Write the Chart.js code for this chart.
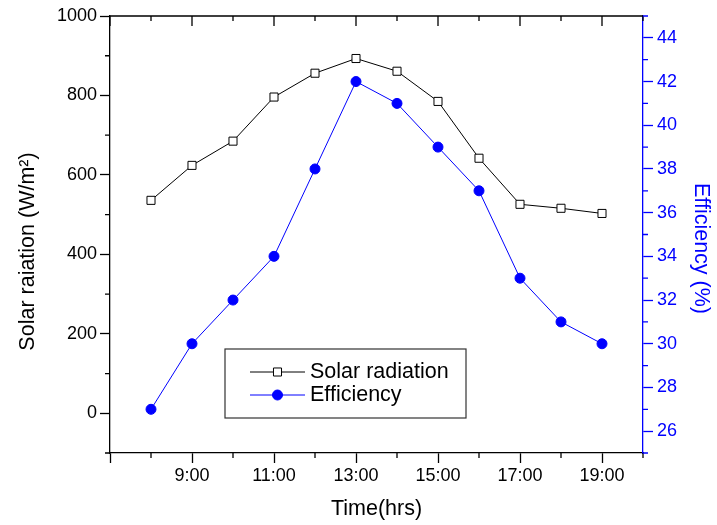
<!DOCTYPE html>
<html><head><meta charset="utf-8">
<script src="https://cdn.jsdelivr.net/npm/chart.js@4/dist/chart.umd.min.js"></script>
<style>html,body{margin:0;padding:0;background:#fff}#wrap{width:717px;height:525px}</style>
</head><body><div id="wrap"><canvas id="c" width="717" height="525"></canvas></div>
<script>
const HOURS = [8, 9, 10, 11, 12, 13, 14, 15, 16, 17, 18, 19];
const SOLAR = [536, 624, 685, 796, 856, 893, 861, 785, 642, 526, 516, 503];
const EFFICIENCY = [27, 30, 32, 34, 38, 42, 41, 39, 37, 33, 31, 30];
const SERIES_NAMES = ['Solar radiation', 'Efficiency'];
const X_TICK_HOURS = [9, 11, 13, 15, 17, 19];
const X_TICK_LABELS = ['9:00', '11:00', '13:00', '15:00', '17:00', '19:00'];
const X_MAJOR = [7, 9, 11, 13, 15, 17, 19];
const X_MINOR = [8, 10, 12, 14, 16, 18, 20];
const Y_LEFT_TICKS = [0, 200, 400, 600, 800, 1000];
const Y_LEFT_MINOR = [-100, 100, 300, 500, 700, 900];
const Y_RIGHT_TICKS = [26, 28, 30, 32, 34, 36, 38, 40, 42, 44];
const Y_RIGHT_MINOR = [25, 27, 29, 31, 33, 35, 37, 39, 41, 43, 45];
const X_TITLE = 'Time(hrs)';
const Y_LEFT_TITLE = 'Solar raiation (W/m²)';
const Y_RIGHT_TITLE = 'Efficiency (%)';

const FONT = "'Liberation Sans', Arial, sans-serif";
const BLUE = '#0000ff';
const LW = 1.3;

const decor = {
  id: 'decor',
  afterDatasetsDraw(chart) {
    const {ctx, chartArea: a, scales} = chart;
    const x = scales.x, yL = scales.y, yR = scales.y1;
    ctx.save();
    ctx.lineWidth = LW;
    ctx.strokeStyle = '#000';
    ctx.beginPath();
    X_MINOR.forEach(v => { const p = x.getPixelForValue(v); ctx.moveTo(p, a.bottom); ctx.lineTo(p, a.bottom + 5); });
    ctx.moveTo(a.left, a.top); ctx.lineTo(a.right, a.top);
    X_MAJOR.forEach(v => { const p = x.getPixelForValue(v); ctx.moveTo(p, a.top); ctx.lineTo(p, a.top + 10); });
    X_MINOR.forEach(v => { const p = x.getPixelForValue(v); ctx.moveTo(p, a.top); ctx.lineTo(p, a.top + 5); });
    Y_LEFT_MINOR.forEach(v => { const p = yL.getPixelForValue(v); ctx.moveTo(a.left - 5, p); ctx.lineTo(a.left, p); });
    ctx.stroke();
    ctx.strokeStyle = BLUE;
    ctx.beginPath();
    Y_RIGHT_MINOR.forEach(v => { const p = yR.getPixelForValue(v); ctx.moveTo(a.right, p); ctx.lineTo(a.right + 5, p); });
    ctx.stroke();

    // legend
    const lx = a.left + 115, ly = a.top + 333, lw = 241, lh = 69;
    ctx.fillStyle = '#fff';
    ctx.fillRect(lx, ly, lw, lh);
    ctx.lineWidth = 1.2;
    ctx.strokeStyle = '#333';
    ctx.strokeRect(lx, ly, lw, lh);
    const rows = [ly + 23, ly + 46];
    chart.data.datasets.forEach((ds, i) => {
      const yy = rows[i];
      ctx.lineWidth = 1;
      ctx.strokeStyle = ds.borderColor;
      ctx.beginPath(); ctx.moveTo(lx + 25, yy); ctx.lineTo(lx + 80, yy); ctx.stroke();
      ctx.fillStyle = ds.pointBackgroundColor;
      ctx.strokeStyle = ds.pointBorderColor;
      ctx.beginPath();
      if (ds.pointStyle === 'rect') {
        const h = ds.pointRadius * Math.SQRT1_2;
        ctx.rect(lx + 52.5 - h, yy - h, 2 * h, 2 * h);
      } else {
        ctx.arc(lx + 52.5, yy, ds.pointRadius, 0, Math.PI * 2);
      }
      ctx.fill(); ctx.stroke();
      ctx.fillStyle = '#000';
      ctx.font = '21.5px ' + FONT;
      ctx.textBaseline = 'middle';
      ctx.textAlign = 'left';
      ctx.fillText(ds.label, lx + 85, yy);
    });

    // axis titles
    ctx.font = '21.5px ' + FONT;
    ctx.textAlign = 'center';
    ctx.textBaseline = 'middle';
    ctx.fillStyle = '#000';
    ctx.save();
    ctx.translate(28, (a.top + a.bottom) / 2 + 17);
    ctx.rotate(-Math.PI / 2);
    ctx.fillText(Y_LEFT_TITLE, 0, 0);
    ctx.restore();
    ctx.save();
    ctx.fillStyle = BLUE;
    ctx.translate(701, (a.top + a.bottom) / 2 + 14);
    ctx.rotate(Math.PI / 2);
    ctx.fillText(Y_RIGHT_TITLE, 0, 0);
    ctx.restore();
    ctx.restore();
  }
};

new Chart(document.getElementById('c'), {
  type: 'line',
  data: {
    datasets: [
      {
        label: SERIES_NAMES[0],
        data: HOURS.map((h, i) => ({x: h, y: SOLAR[i]})),
        yAxisID: 'y',
        borderColor: '#000',
        borderWidth: 1,
        pointStyle: 'rect',
        pointRadius: 5.7,
        pointBackgroundColor: '#fff',
        pointBorderColor: '#000',
        pointBorderWidth: 1,
        tension: 0
      },
      {
        label: SERIES_NAMES[1],
        data: HOURS.map((h, i) => ({x: h, y: EFFICIENCY[i]})),
        yAxisID: 'y1',
        borderColor: BLUE,
        borderWidth: 1,
        pointStyle: 'circle',
        pointRadius: 5,
        pointBackgroundColor: BLUE,
        pointBorderColor: BLUE,
        pointBorderWidth: 1,
        tension: 0
      }
    ]
  },
  options: {
    responsive: false,
    animation: false,
    layout: {padding: {top: 16, left: 0, right: 0, bottom: 0}},
    plugins: {legend: {display: false}, tooltip: {enabled: false}},
    scales: {
      x: {
        type: 'linear',
        min: 7, max: 20,
        afterBuildTicks: s => { s.ticks = X_MAJOR.map(v => ({value: v})); },
        afterFit: s => { s.height = 72; },
        ticks: {
          autoSkip: false, maxRotation: 0, padding: 2,
          color: '#000',
          font: {family: FONT, size: 18},
          callback: v => { const i = X_TICK_HOURS.indexOf(v); return i >= 0 ? X_TICK_LABELS[i] : ''; }
        },
        grid: {drawOnChartArea: false, drawTicks: true, tickLength: 10, tickColor: '#000', tickWidth: LW},
        border: {display: true, color: '#000', width: LW},
        title: {display: true, text: X_TITLE, color: '#000', font: {family: FONT, size: 21.5}, padding: {top: 0, bottom: 3}}
      },
      y: {
        type: 'linear', position: 'left',
        min: -100, max: 1000,
        afterBuildTicks: s => { s.ticks = Y_LEFT_TICKS.map(v => ({value: v})); },
        afterFit: s => { s.width = 110; },
        ticks: {color: '#000', padding: 3, font: {family: FONT, size: 18}, callback: v => String(v)},
        grid: {drawOnChartArea: false, drawTicks: true, tickLength: 10, tickColor: '#000', tickWidth: LW},
        border: {display: true, color: '#000', width: LW}
      },
      y1: {
        type: 'linear', position: 'right',
        min: 25, max: 45,
        afterBuildTicks: s => { s.ticks = Y_RIGHT_TICKS.map(v => ({value: v})); },
        afterFit: s => { s.width = 74; },
        ticks: {color: BLUE, padding: 4, font: {family: FONT, size: 18}, callback: v => String(v)},
        grid: {drawOnChartArea: false, drawTicks: true, tickLength: 10, tickColor: BLUE, tickWidth: LW},
        border: {display: true, color: BLUE, width: LW}
      }
    }
  },
  plugins: [decor]
});
</script>
</body></html>
